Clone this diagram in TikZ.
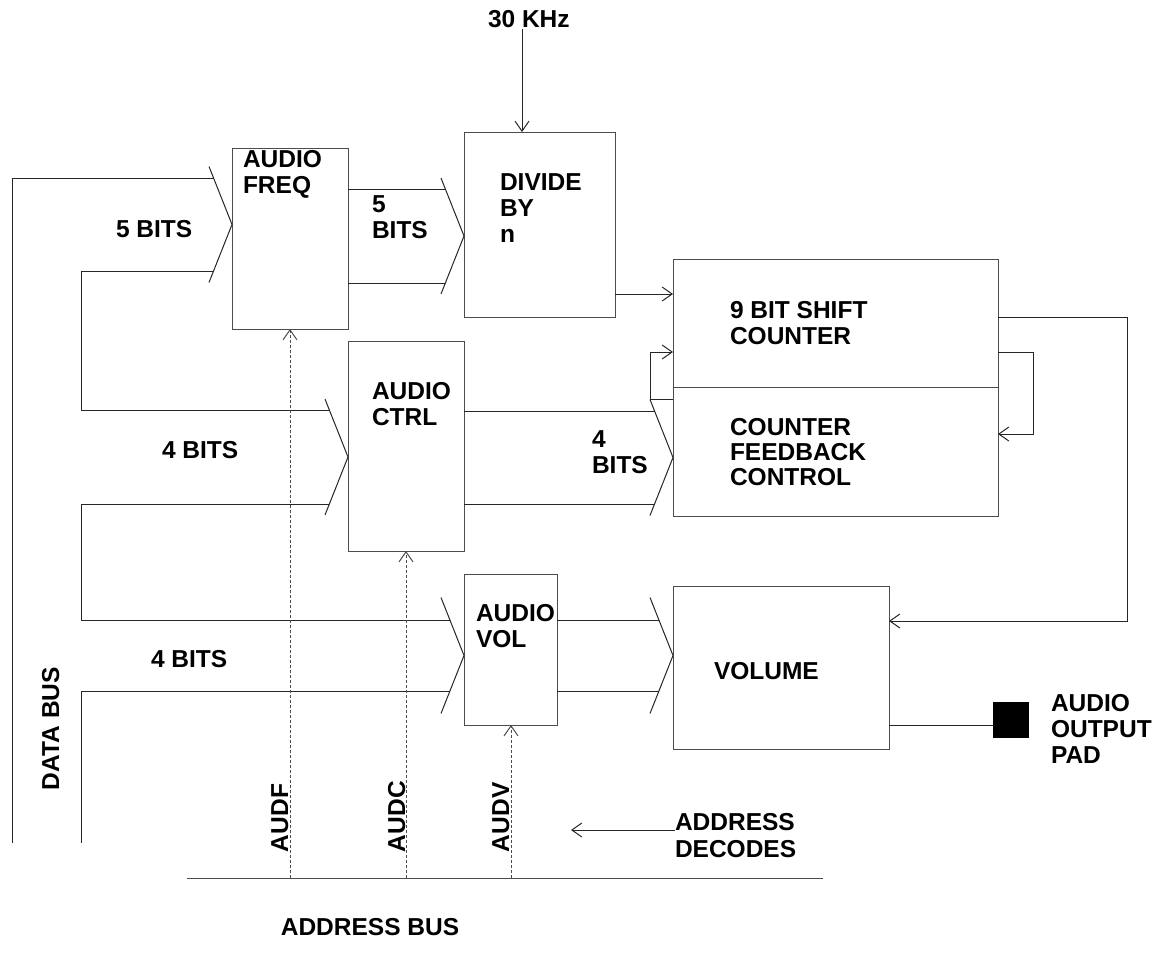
\documentclass[tikz,border=0pt]{standalone}
\usepackage{fontspec}
\setmainfont{Liberation Sans}
\usetikzlibrary{arrows.meta}
\begin{document}
\begin{tikzpicture}[x=1pt,y=-1pt,
  wire/.style={line width=1pt, draw=black!85},
  boxnode/.style={draw=black!70, line width=1pt, rectangle, inner sep=0pt, outer sep=0pt, anchor=north west},
  lbl/.style={anchor=base west, inner sep=0pt, outer sep=0pt, font=\fontsize{24.5}{26}\selectfont\bfseries},
  arr/.style={-{Straight Barb[length=10pt,width=14pt]}},
  addr/.style={draw=black!70, line width=1pt, dash pattern=on 3pt off 2pt}
]
\useasboundingbox (0,0) rectangle (1176,978);

% boxes
\node[boxnode, minimum width=116pt, minimum height=181pt] (freq) at (232,148) {};
\node[boxnode, minimum width=116pt, minimum height=210pt] (ctrl) at (348,341) {};
\node[boxnode, minimum width=93pt, minimum height=151pt] (vol) at (464,574) {};
\node[boxnode, minimum width=151pt, minimum height=185pt] (div) at (464,132) {};
\node[boxnode, minimum width=325pt, minimum height=128pt] (shift) at (673,259) {};
\node[boxnode, minimum width=325pt, minimum height=129pt] (fb) at (673,387) {};
\node[boxnode, minimum width=216pt, minimum height=163pt] (volume) at (673,586) {};
\node[boxnode, fill=black, draw=black, minimum width=35pt, minimum height=35pt] (pad) at (993,702) {};

% texts
\node[lbl] (t1) at (243,167) {AUDIO};
\node[lbl] (t2) at (243,193) {FREQ};
\node[lbl] (t3) at (116,237) {5 BITS};
\node[lbl] (t4) at (372,212) {5};
\node[lbl] (t5) at (372,238) {BITS};
\node[lbl] (t6) at (500,190) {DIVIDE};
\node[lbl] (t7) at (500,216) {BY};
\node[lbl] (t8) at (500,242) {n};
\node[lbl] (t9) at (730,318) {9 BIT SHIFT};
\node[lbl] (t10) at (730,344) {COUNTER};
\node[lbl] (t11) at (730,435) {COUNTER};
\node[lbl] (t12) at (730,460) {FEEDBACK};
\node[lbl] (t13) at (730,485) {CONTROL};
\node[lbl] (t14) at (592,447) {4};
\node[lbl] (t15) at (592,473) {BITS};
\node[lbl] (t16) at (372,399) {AUDIO};
\node[lbl] (t17) at (372,425) {CTRL};
\node[lbl] (t18) at (162,458) {4 BITS};
\node[lbl] (t19) at (151,667) {4 BITS};
\node[lbl] (t20) at (476,621) {AUDIO};
\node[lbl] (t21) at (476,647) {VOL};
\node[lbl] (t22) at (714,679) {VOLUME};
\node[lbl] (t23) at (1051,711) {AUDIO};
\node[lbl] (t24) at (1051,737) {OUTPUT};
\node[lbl] (t25) at (1051,763) {PAD};
\node[lbl] (t26) at (675,830) {ADDRESS};
\node[lbl] (t27) at (675,857) {DECODES};
\node[lbl, anchor=base] (t28) at (370,935) {ADDRESS BUS};
\node[lbl] (khz) at (488,27) {30 KHz};
\node[lbl, rotate=90] (audf) at (288,852) {AUDF};
\node[lbl, rotate=90] (audc) at (405,852) {AUDC};
\node[lbl, rotate=90] (audv) at (509,852) {AUDV};
\node[lbl, rotate=90] (dbus) at (59,790) {DATA BUS};

% bus entry marks
\coordinate (m1) at (232,224.5);
\coordinate (m2) at (464,236);
\coordinate (m3) at (348,457);
\coordinate (m4) at (673,457.5);
\coordinate (m5) at (464,655.5);
\coordinate (m6) at (673,655.5);
\foreach \m in {m1,m2,m3,m4,m5,m6}
  \draw[wire] (\m) -- ++(-23,-58) (\m) -- ++(-23,58);

% wire ends at the marks
\coordinate (m1a) at (213.6,178);  \coordinate (m1b) at (213.6,271);
\coordinate (m2a) at (445.4,189);  \coordinate (m2b) at (445.4,283);
\coordinate (m3a) at (329.4,410);  \coordinate (m3b) at (329.4,504);
\coordinate (m4a) at (654.6,411);  \coordinate (m4b) at (654.6,504);
\coordinate (m5a) at (450,620);    \coordinate (m5b) at (450,691);
\coordinate (m6a) at (659,620);    \coordinate (m6b) at (659,691);

% data bus
\coordinate (db1) at (12,843);
\coordinate (db2) at (81,843);
\draw[wire] (db1) |- (m1a);
\draw[wire] (m1b) -| (81,410) -- (m3a);
\draw[wire] (m3b) -| (81,620) -- (m5a);
\draw[wire] (m5b) -| (db2);

% register outputs
\draw[wire] (freq.east |- m2a) -- (m2a);
\draw[wire] (freq.east |- m2b) -- (m2b);
\draw[wire] (ctrl.east |- m4a) -- (m4a);
\draw[wire] (ctrl.east |- m4b) -- (m4b);
\draw[wire] (vol.east |- m6a) -- (m6a);
\draw[wire] (vol.east |- m6b) -- (m6b);

% clock
\coordinate (clk) at (522,29);
\draw[wire,arr] (clk) -- (clk |- div.north);

% divide -> shift counter
\draw[wire,arr] (div.east |- 0,294) -- (shift.west |- 0,294);
% left loop
\draw[wire,arr] (fb.west |- 0,399) -| (650,352) -- (shift.west |- 0,352);
% right loop
\draw[wire,arr] (shift.east |- 0,352) -| (1033,434) -- (fb.east |- 0,434);
% shift counter -> volume
\draw[wire,arr] (shift.east |- 0,317) -| (1127,621) -- (volume.east |- 0,621);
% volume -> pad
\draw[wire] (volume.east |- 0,725) -- (pad.west |- 0,725);

% address decodes
\coordinate (ab1) at (187,878);
\coordinate (ab2) at (823,878);
\draw[wire, draw=black!70] (ab1) -- (ab2);
\coordinate (abF) at (290,878);
\coordinate (abC) at (406,878);
\coordinate (abV) at (511,878);
\draw[addr,arr] (abF) -- (freq.south -| abF);
\draw[addr,arr] (abC) -- (ctrl.south -| abC);
\draw[addr,arr] (abV) -- (vol.south -| abV);
\draw[wire,arr] (t26.base west) -- (571,830);
\end{tikzpicture}
\end{document}
